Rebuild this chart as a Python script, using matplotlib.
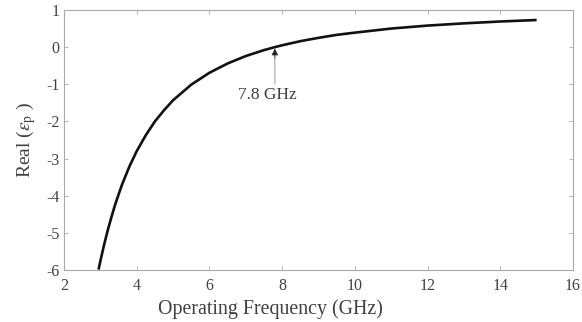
import matplotlib
matplotlib.use("Agg")
import matplotlib.pyplot as plt

freq = [2.95, 3.0, 3.1, 3.2, 3.3, 3.4, 3.5, 3.6, 3.8, 4.0, 4.25, 4.5, 4.75,
        5.0, 5.5, 6.0, 6.5, 7.0, 7.5, 7.8, 8.0, 8.5, 9.0, 9.5, 10.0, 11.0,
        12.0, 13.0, 14.0, 15.0]
real_eps = [-5.99, -5.76, -5.33, -4.94, -4.59, -4.26, -3.97, -3.69, -3.21,
            -2.80, -2.37, -2.00, -1.70, -1.43, -1.01, -0.69, -0.44, -0.24,
            -0.08, 0.00, 0.05, 0.16, 0.25, 0.33, 0.39, 0.50, 0.58, 0.64,
            0.69, 0.73]
xticks = [2, 4, 6, 8, 10, 12, 14, 16]
yticks = [-6, -5, -4, -3, -2, -1, 0, 1]
annot_x, annot_y = 7.8, 0.0
annot_text = "7.8 GHz"

plt.rcParams['font.family'] = ['Liberation Serif', 'DejaVu Serif']
plt.rcParams['mathtext.fontset'] = 'stix'
plt.rcParams['axes.unicode_minus'] = False

txt = '#404040'
spine = '#a8a8a8'

fig = plt.figure(figsize=(5.82, 3.22), dpi=100)
ax = fig.add_axes([0.110, 0.1615, 0.8745, 0.8075])
ax.plot(freq, real_eps, color='#111111', lw=1.9, solid_capstyle='butt')
ax.set_xlim(2, 16)
ax.set_ylim(-6, 1)
ax.set_xticks(xticks)
ax.set_yticks(yticks)
ax.tick_params(direction='in', top=True, right=True, length=3, width=0.6,
               colors=spine, labelcolor=txt, labelsize=11.5)
ax.tick_params(axis='x', pad=6)
ax.tick_params(axis='y', pad=3)
for s in ax.spines.values():
    s.set_color(spine)
    s.set_linewidth(0.8)
ax.set_xlabel('Operating Frequency (GHz)', fontsize=14.3, color=txt)
ax.xaxis.set_label_coords(0.405, -0.152)
ax.xaxis.label.set_va('center')
ax.set_ylabel(r'Real ($\epsilon_{\rm p}$ )', fontsize=14, color=txt, labelpad=6)

# arrow shaft (grey) and head (black)
ax.annotate('', xy=(annot_x, annot_y - 0.12), xytext=(annot_x, -1.0),
            arrowprops=dict(arrowstyle='-', color='#9a9a9a', lw=0.7,
                            shrinkA=0, shrinkB=0))
ax.annotate('', xy=(annot_x, annot_y - 0.04), xytext=(annot_x, -0.3),
            arrowprops=dict(arrowstyle='-|>', color='#222222', lw=0.5,
                            mutation_scale=10, shrinkA=0, shrinkB=0))
ax.text(7.58, -1.29, annot_text, ha='center', va='center', fontsize=12.5,
        color=txt)

fig.savefig('out.png', dpi=100)
